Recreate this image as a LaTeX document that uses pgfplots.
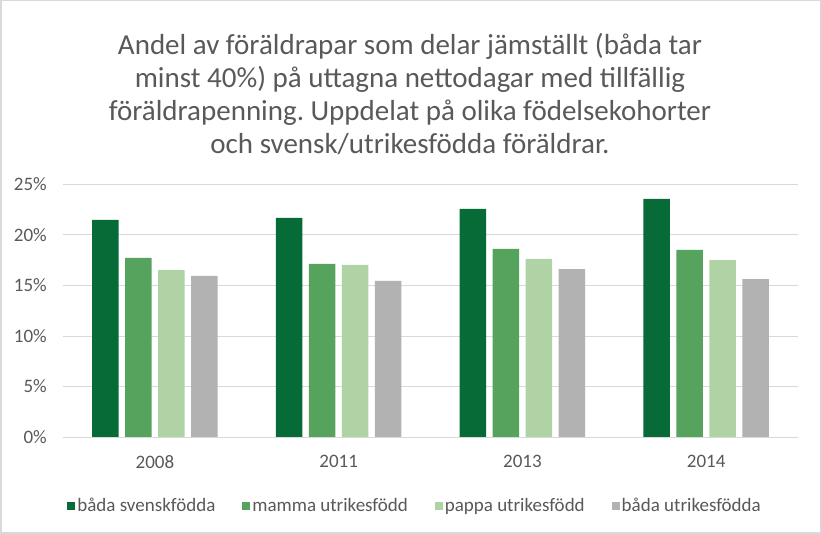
\documentclass[border=0pt]{standalone}
\usepackage{pgfplots}
\pgfplotsset{compat=1.18}
\usepackage{fontspec}
\setmainfont{Carlito}
\definecolor{c1}{RGB}{6,107,54}
\definecolor{c2}{RGB}{86,163,93}
\definecolor{c3}{RGB}{176,211,166}
\definecolor{c4}{RGB}{178,178,178}
\definecolor{txt}{RGB}{89,89,89}
\definecolor{gridc}{RGB}{217,217,217}
\begin{document}
\begin{tikzpicture}[x=1pt,y=1pt]
\useasboundingbox (0,0) rectangle (821,534);
\draw[gridc, line width=1.5pt] (0.75,0.75) rectangle (820.25,533.25);
\node[text=txt, align=center, font=\fontsize{29}{33}\selectfont] at (410,440)
 {Andel av föräldrapar som delar jämställt (båda tar\\
  minst 40\%) på uttagna nettodagar med tillfällig\\
  föräldrapenning.\ Uppdelat på olika födelsekohorter\\
  och svensk/utrikesfödda\ föräldrar.};
\begin{axis}[
  at={(63pt,97pt)}, anchor=south west,
  scale only axis, width=735pt, height=252.7pt,
  ybar=6.5pt, bar width=26.5pt,
  xmin=-0.5, xmax=3.5, ymin=0, ymax=25,
  xtick={0,1,2,3}, xticklabels={2008,2011,2013,2014},
  ytick={0,5,10,15,20,25},
  yticklabels={0\%,5\%,10\%,15\%,20\%,25\%},
  major tick length=0pt,
  axis line style={draw=none},
  ymajorgrids, grid style={gridc, line width=0.8pt},
  tick label style={text=txt, font=\fontsize{19}{22}\selectfont},
  yticklabel style={inner sep=0pt, xshift=-16pt, anchor=east},
  xticklabel style={inner sep=0pt, yshift=-18pt, anchor=north},
  legend columns=4,
  legend style={draw=none, at={(0.479,-0.272)}, anchor=center,
    font=\fontsize{19}{22}\selectfont, text=txt,
    /tikz/every even column/.append style={column sep=25pt}},
  legend image code/.code={\fill[#1] (0pt,-4pt) rectangle (8pt,4pt);},
]
\addplot[fill=c1, draw=none] coordinates {(0,21.47) (1,21.67) (2,22.56) (3,23.55)};
\addplot[fill=c2, draw=none] coordinates {(0,17.71) (1,17.12) (2,18.60) (3,18.50)};
\addplot[fill=c3, draw=none] coordinates {(0,16.52) (1,17.02) (2,17.61) (3,17.51)};
\addplot[fill=c4, draw=none] coordinates {(0,15.93) (1,15.44) (2,16.62) (3,15.63)};
\legend{båda svenskfödda, mamma utrikesfödd, pappa utrikesfödd, båda utrikesfödda}
\end{axis}
\end{tikzpicture}
\end{document}
